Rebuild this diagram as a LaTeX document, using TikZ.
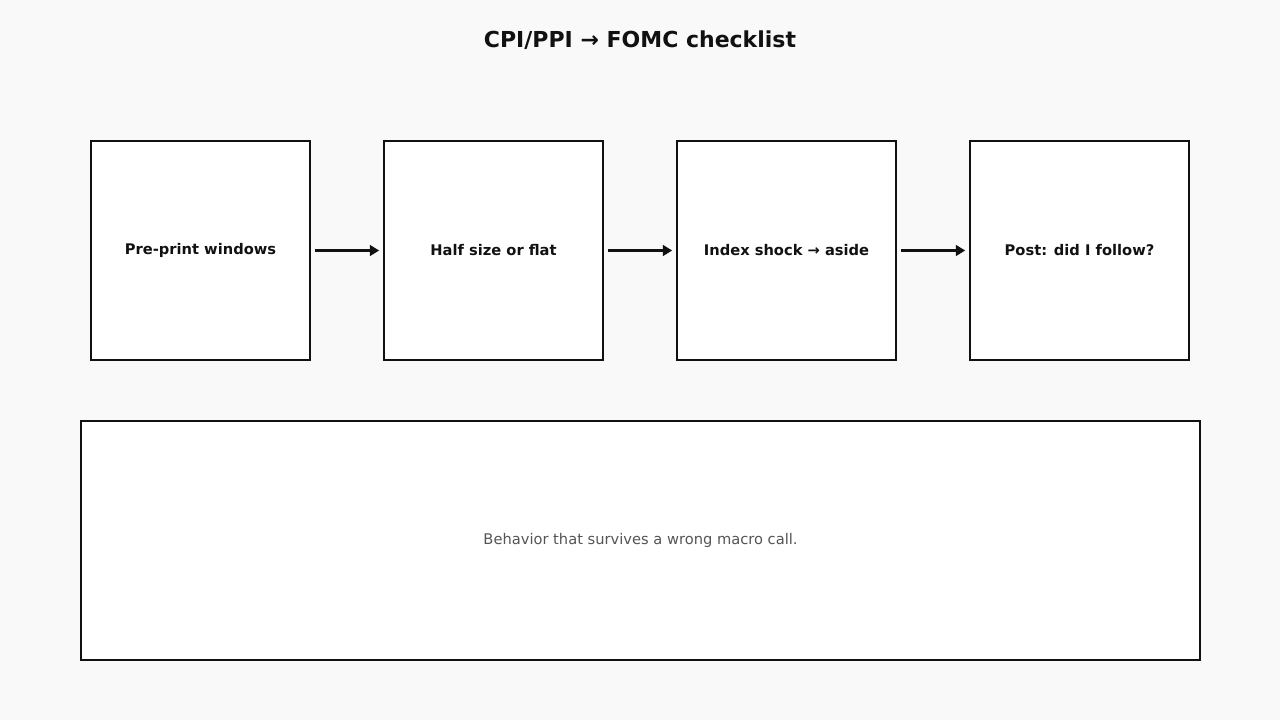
\documentclass[tikz,border=0pt]{standalone}
\usepackage{fontspec}
\setmainfont{DejaVu Sans}
\usetikzlibrary{arrows.meta}
\definecolor{bg}{HTML}{F9F9F9}
\definecolor{ink}{HTML}{111111}
\definecolor{muted}{HTML}{555555}
\begin{document}
\begin{tikzpicture}[x=0.75pt,y=-0.75pt,
  box/.style={draw=ink,line width=1.2pt,fill=white,minimum width=219*0.75pt,minimum height=219*0.75pt,inner sep=0pt,font=\fontsize{11}{13}\selectfont\bfseries,text=ink},
  arr/.style={draw=ink,line width=1.8pt,-{Triangle[length=7pt,width=8pt]},shorten >=3pt,shorten <=3pt}]
\fill[bg] (0,0) rectangle (1280,720);
\useasboundingbox (0,0) rectangle (1280,720);
\node[font=\fontsize{16.5}{19}\selectfont\bfseries,text=ink] (title) at (640,40) {CPI/PPI → FOMC checklist};
\node[box] (a) at (200.5,250.5) {Pre-print windows};
\node[box] (b) at (493.5,250.5) {Half size or flat};
\node[box] (c) at (786.5,250.5) {Index shock → aside};
\node[box] (d) at (1079.5,250.5) {Post: did I follow?};
\draw[arr] (a.east) -- (b.west);
\draw[arr] (b.east) -- (c.west);
\draw[arr] (c.east) -- (d.west);
\node[draw=ink,line width=1.2pt,fill=white,minimum width=1119*0.75pt,minimum height=239*0.75pt,inner sep=0pt,font=\fontsize{11}{13}\selectfont,text=muted] (note) at (640.5,540.5) {Behavior that survives a wrong macro call.};
\end{tikzpicture}
\end{document}
